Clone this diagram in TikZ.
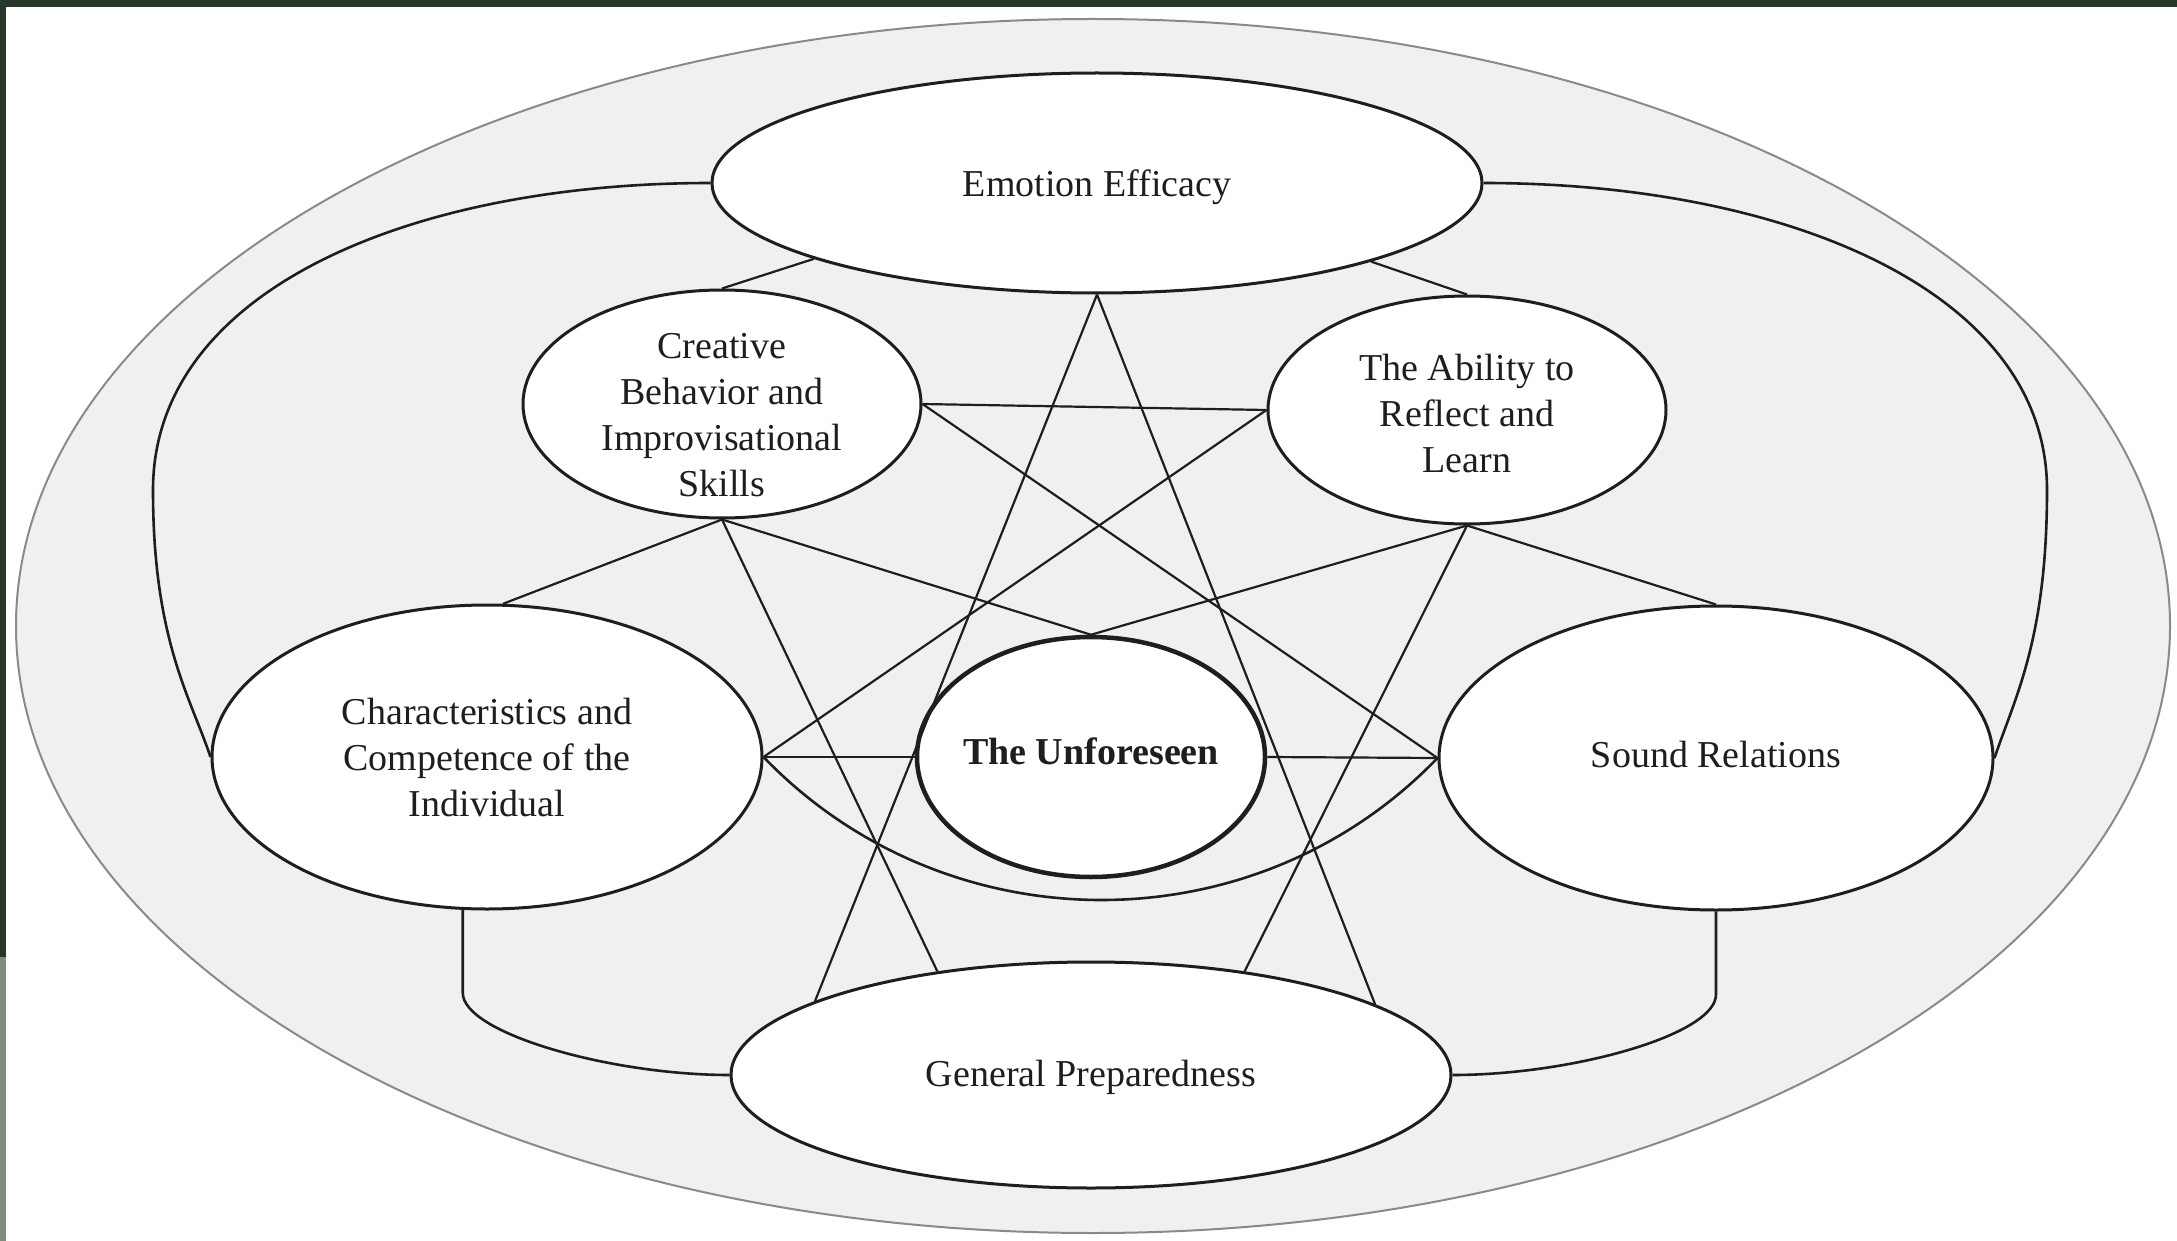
\documentclass[tikz,border=0pt]{standalone}
\usepackage{fontspec}
\setmainfont{Liberation Serif}
\usetikzlibrary{shapes.geometric}
\definecolor{dkgreen}{HTML}{26382C}
\definecolor{sage}{HTML}{7E8E7A}
\definecolor{ringfill}{HTML}{F0F0F0}
\definecolor{ringline}{HTML}{8A8A8A}
\definecolor{ink}{HTML}{1E1E1E}
\begin{document}
\begin{tikzpicture}[x=1pt,y=-1pt,
  bub/.style={ellipse, draw=ink, line width=3pt, fill=white, inner sep=0pt},
  lbl/.style={text=ink, align=center, inner sep=0pt, font=\fontsize{38}{46}\selectfont},
  link/.style={draw=ink, line width=2.2pt},
  curve/.style={draw=ink, line width=2.6pt}]
\useasboundingbox (0,0) rectangle (2177,1241);
\fill[white] (0,0) rectangle (2177,1241);
\fill[dkgreen] (0,0) rectangle (2177,7);
\fill[dkgreen] (0,0) rectangle (6,957);
\fill[sage] (0,957) rectangle (6,1241);
\node[ellipse, draw=ringline, fill=ringfill, line width=2pt, minimum width=2154pt,
  minimum height=1214pt, inner sep=0pt] (ring) at (1093,626) {};

\node[bub, minimum width=770pt, minimum height=220pt,
  label={[lbl,yshift=-4pt]center:Emotion Efficacy}] (EE) at (1097,183) {};
\node[bub, minimum width=398pt, minimum height=228pt,
  label={[lbl,yshift=-11pt]center:{Creative\\Behavior and\\Improvisational\\Skills}}] (CB) at (722,404) {};
\node[bub, minimum width=398pt, minimum height=228pt,
  label={[lbl,yshift=-4pt]center:{The Ability to\\Reflect and\\Learn}}] (AR) at (1467,410) {};
\node[bub, minimum width=550pt, minimum height=304pt,
  label={[lbl]center:{Characteristics and\\Competence of the\\Individual}}] (CI) at (487,757) {};
\node[bub, line width=4.5pt, minimum width=348pt, minimum height=240pt,
  label={[lbl,yshift=6pt,font=\fontsize{38}{46}\selectfont\bfseries]center:The Unforeseen}] (UF) at (1091,757) {};
\node[bub, minimum width=554pt, minimum height=304pt,
  label={[lbl,yshift=4pt]center:Sound Relations}] (SR) at (1716,758) {};
\node[bub, minimum width=720pt, minimum height=226pt,
  label={[lbl,yshift=-2pt]center:General Preparedness}] (GP) at (1091,1075) {};

\draw[link] (EE.195.7) -- (CB.north);
\draw[link] (EE.344.3) -- (AR.north);
\draw[link] (EE.south) -- (GP.165.3);
\draw[link] (EE.south) -- (GP.14.7);
\draw[link] (CB.east) -- (AR.west);
\draw[link] (CB.east) -- (SR.west);
\draw[link] (CB.south) -- (CI.84);
\draw[link] (CB.south) -- (UF.north);
\draw[link] (CB.south) -- (GP.146);
\draw[link] (AR.west) -- (CI.east);
\draw[link] (AR.south) -- (SR.north);
\draw[link] (AR.south) -- (UF.north);
\draw[link] (AR.south) -- (GP.34);
\draw[link] (CI.east) -- (UF.west);
\draw[link] (UF.east) -- (SR.west);
\draw[curve] (CI.east) .. controls +(183,190) and +(-183,190) .. (SR.west);
\draw[curve] (EE.west) .. controls +(-300,0) and +(0,-200) .. (153,490)
  .. controls +(0,150) and +(-20,-60) .. (CI.west);
\draw[curve] (EE.east) .. controls +(300,0) and +(0,-200) .. (2047,490)
  .. controls +(0,150) and +(20,-60) .. (SR.east);
\draw[curve] (CI.261) -- ++(0,83) .. controls +(0,40) and +(-120,0) .. (GP.west);
\draw[curve] (SR.south) -- ++(0,83) .. controls +(0,40) and +(120,0) .. (GP.east);
\end{tikzpicture}
\end{document}
